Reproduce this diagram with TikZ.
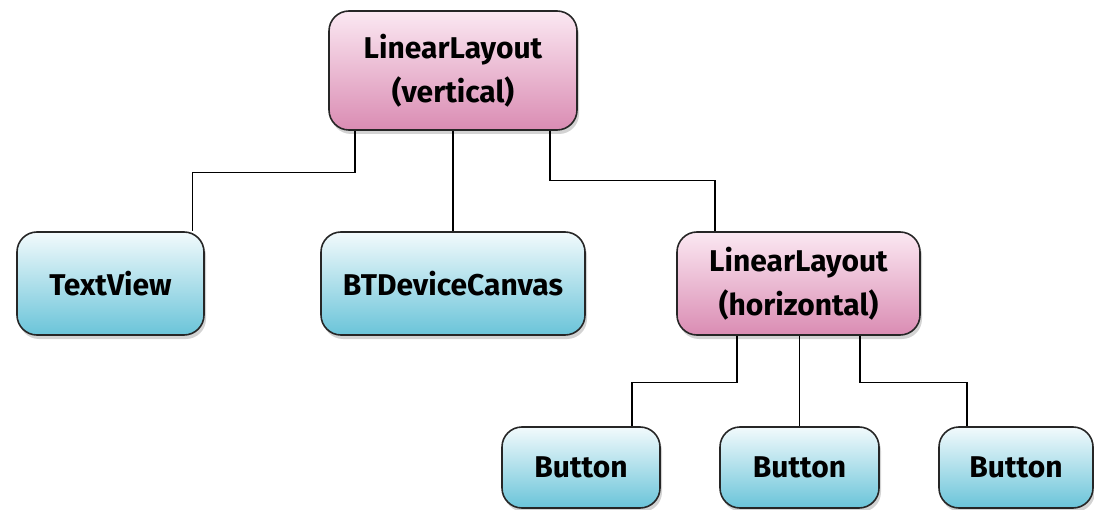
\documentclass[tikz,border=0pt]{standalone}
\usepackage{fontspec}
\setmainfont{Fira Sans}
\usetikzlibrary{shadows}
\definecolor{pinkT}{HTML}{FBE8F2}
\definecolor{pinkB}{HTML}{DA8CB3}
\definecolor{blueT}{HTML}{F2FAFC}
\definecolor{blueB}{HTML}{6AC4D9}
\tikzset{
 box/.style={draw=black!85, line width=1.6pt, rounded corners=20pt, inner sep=0pt, align=center,
   font=\fontsize{30}{44}\selectfont\bfseries,
   drop shadow={shadow xshift=2pt, shadow yshift=-4pt, opacity=0.35}},
 pinkbox/.style={box, top color=pinkT, bottom color=pinkB},
 bluebox/.style={box, top color=blueT, bottom color=blueB},
 wire/.style={line width=1.3pt, black}
}
\begin{document}
\begin{tikzpicture}[x=1pt,y=1pt]
\useasboundingbox (0,0) rectangle (1094,-510);
\node[pinkbox, minimum width=248pt, minimum height=119pt] (root) at (453,-70.5) {LinearLayout\\(vertical)};
\node[bluebox, minimum width=187pt, minimum height=103pt] (tv) at (110.5,-283.5) {TextView};
\node[bluebox, minimum width=264pt, minimum height=103pt] (bt) at (453,-283.5) {BTDeviceCanvas};
\node[pinkbox, minimum width=243pt, minimum height=103pt] (llh) at (798.5,-283.5) {LinearLayout\\(horizontal)};
\node[bluebox, minimum width=158pt, minimum height=81pt] (b1) at (581,-467.5) {Button};
\node[bluebox, minimum width=159pt, minimum height=81pt] (b2) at (799.5,-467.5) {Button};
\node[bluebox, minimum width=154pt, minimum height=81pt] (b3) at (1016,-467.5) {Button};
\draw[wire] ([xshift=-98pt]root.south) -- ++(0,-42) -| ([xshift=82pt]tv.north);
\draw[wire] (root.south) -- (bt.north);
\draw[wire] ([xshift=97pt]root.south) -- ++(0,-50) -| ([xshift=-83.5pt]llh.north);
\draw[wire] ([xshift=-61.5pt]llh.south) -- ++(0,-47) -| ([xshift=51pt]b1.north);
\draw[wire] ([xshift=1pt]llh.south) -- (b2.north);
\draw[wire] ([xshift=61.5pt]llh.south) -- ++(0,-47) -| ([xshift=-49pt]b3.north);
\end{tikzpicture}
\end{document}
